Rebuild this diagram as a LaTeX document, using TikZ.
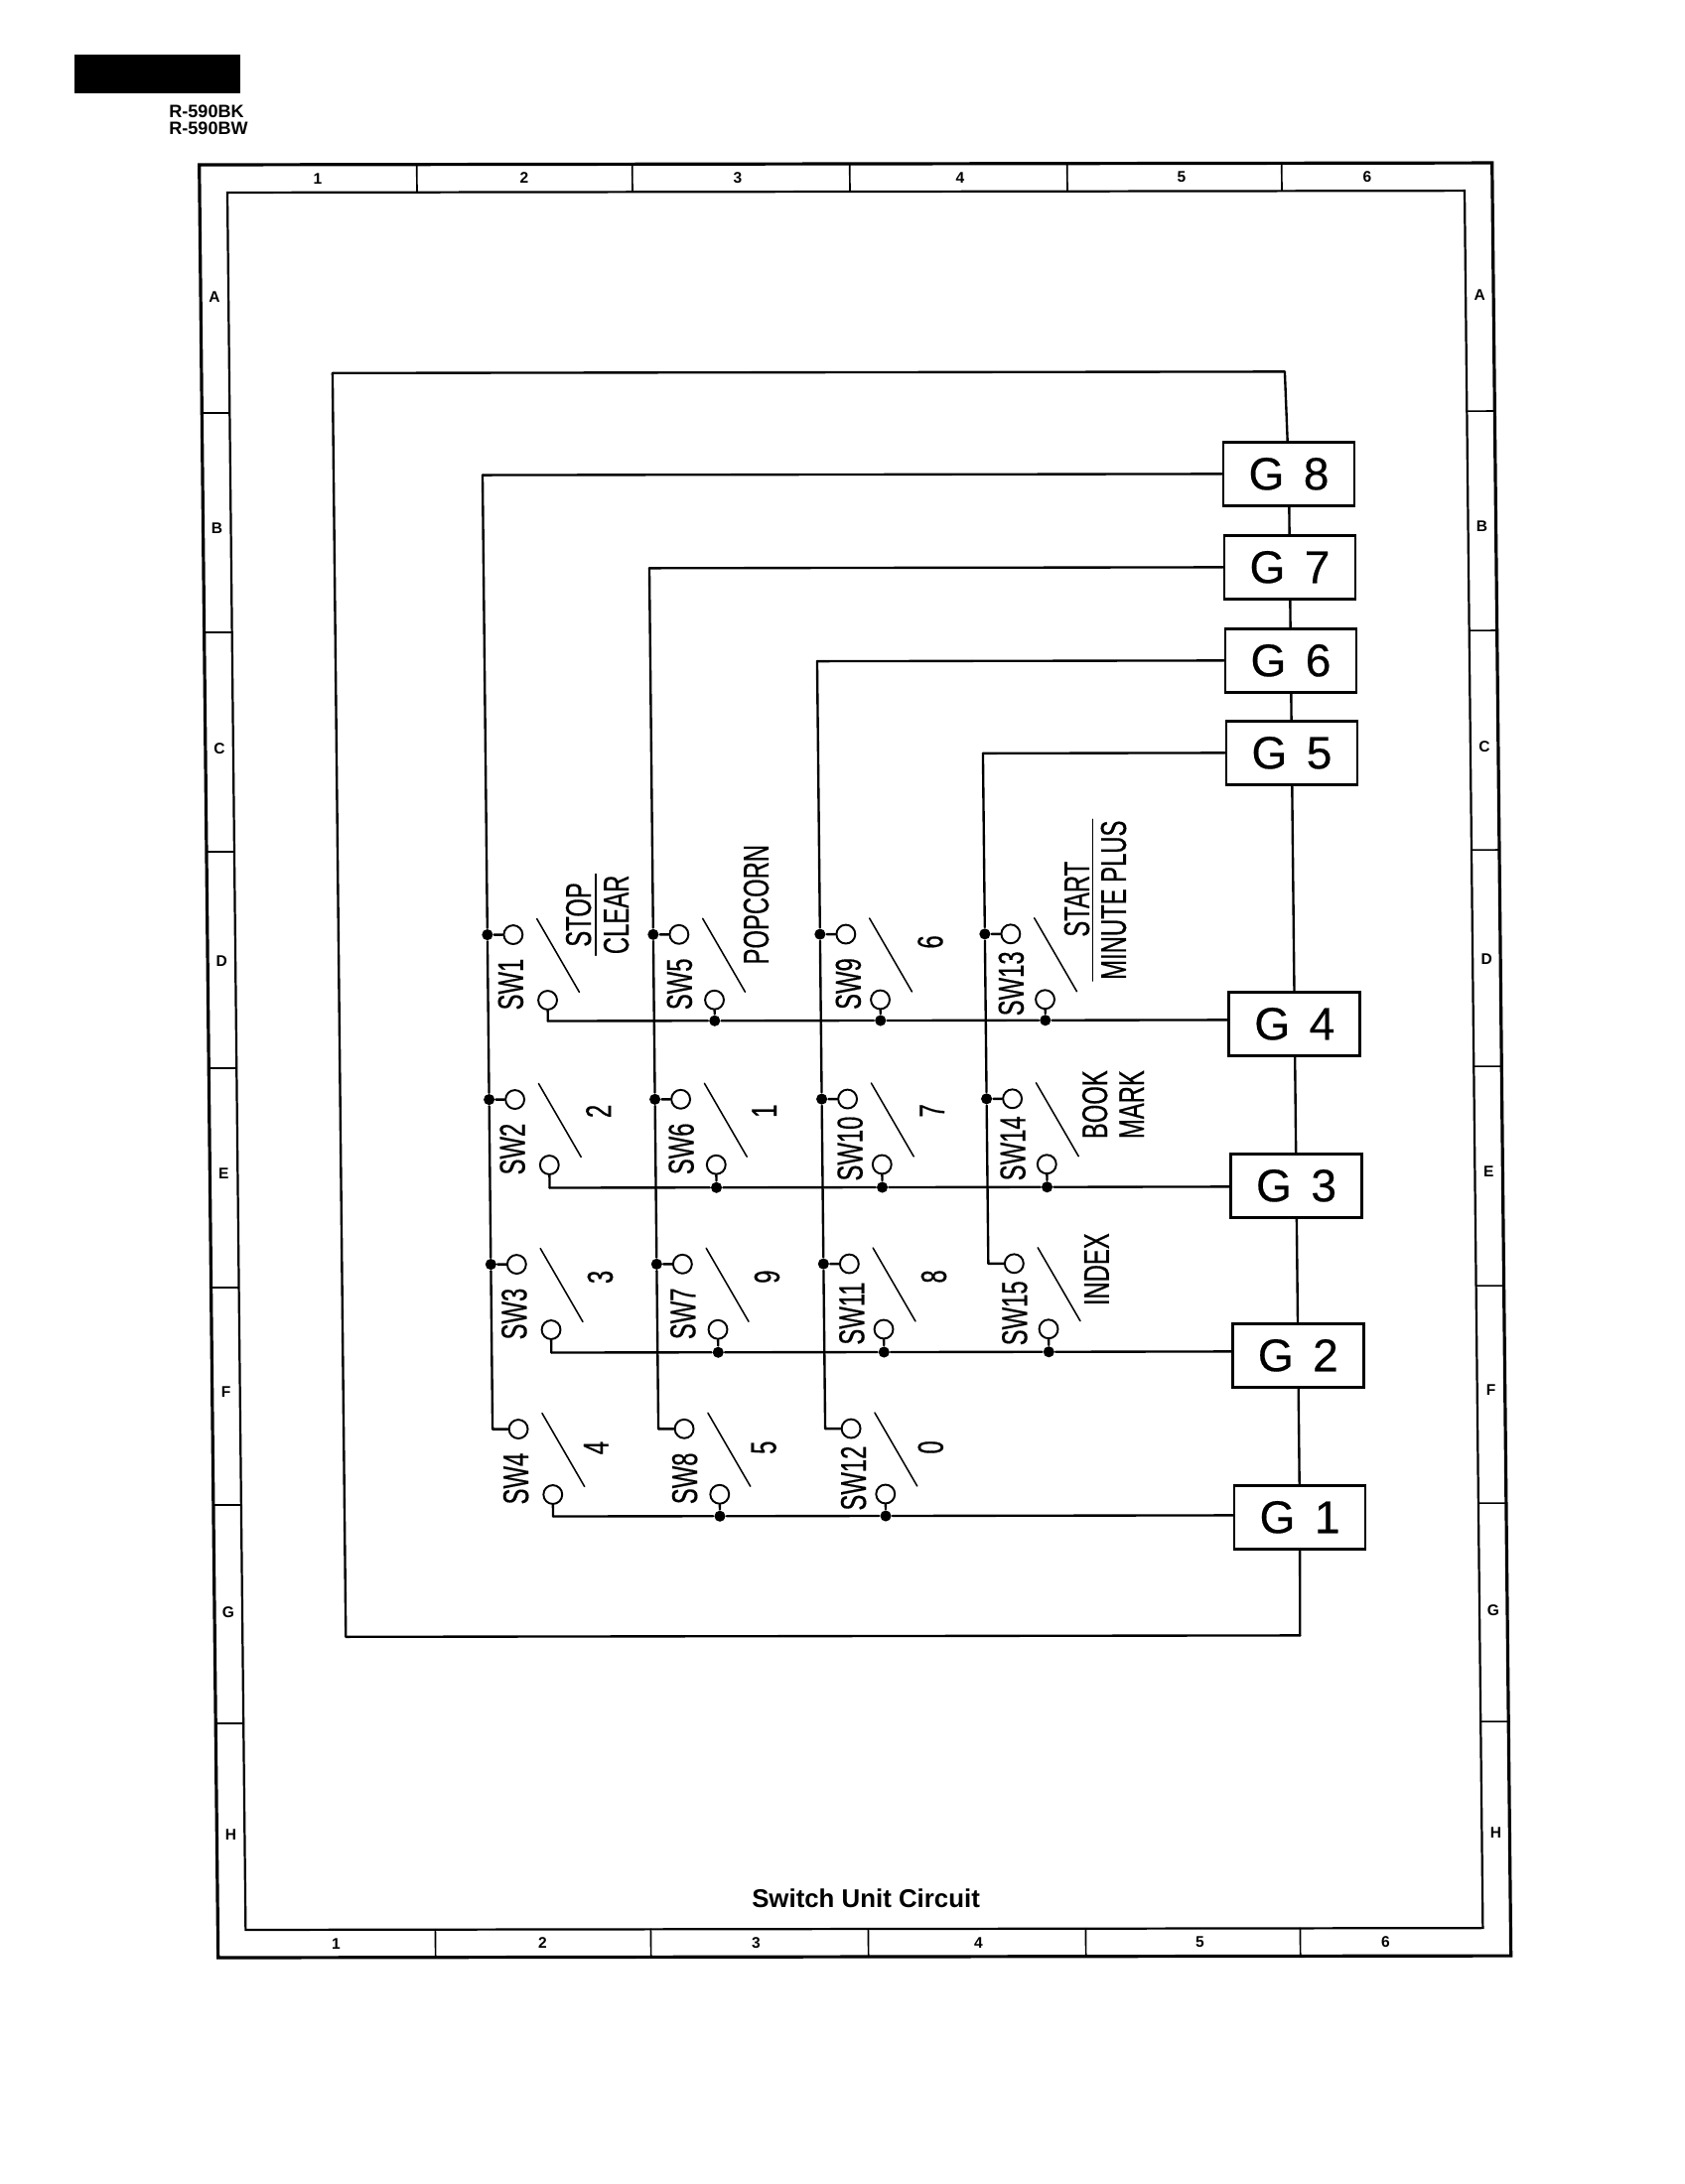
\documentclass[tikz,border=0pt]{standalone}
\usepackage{fontspec}
\setmainfont{Liberation Sans}
\newfontfamily\swfont[FakeStretch=0.66, FakeBold=0.4]{Liberation Sans}
\newfontfamily\blockfont[FakeBold=0.4]{Liberation Sans}
\usepackage{tikz}
\usetikzlibrary{positioning}

\begin{document}
\begin{tikzpicture}[x={(.36pt,.00054pt)}, y={(.00378pt,-.36pt)}, line width=.85pt, line cap=round,
    block/.style={shape=rectangle, draw=black, line width=1pt, inner sep=0pt, minimum width=47.5pt, minimum height=23pt, font=\blockfont\fontsize{16.6}{17}\selectfont},
    contact/.style={shape=circle, draw=black, line width=.7pt, inner sep=0pt, minimum size=6.8pt},
    junction/.style={shape=circle, fill=black, inner sep=0pt, minimum size=4pt},
    swtext/.style={rotate=90, inner xsep=0pt, inner ysep=2.5pt, font=\swfont\fontsize{13}{13}\selectfont},
    gridtext/.style={inner sep=0pt, font=\bfseries\fontsize{5.6}{6}\selectfont},
    arm/.style={line width=.55pt},
    frameouter/.style={line width=1.15pt},
    frameinner/.style={line width=.8pt},
    frametick/.style={line width=.6pt}]
    \useasboundingbox (-72.252pt,59.76pt) rectangle (538.308pt,-732.24pt);

    \node[shape=rectangle, fill=black, inner sep=0pt, minimum width=60pt, minimum height=14pt] (tag) at (-41,-92) {};
    \node[anchor=west, align=left, inner sep=0pt, font=\bfseries\fontsize{6.5}{6.1}\selectfont] (model) at (-31,-45) {R-590BK\\R-590BW};
    \node[font=\bfseries\fontsize{9.3}{10}\selectfont] (title) at (653,1747) {Switch Unit Circuit};

    \draw[frameouter] (0,0) -- (1302,0) -- (1302,1806) -- (0,1806) -- cycle;
    \draw[frameinner] (28,28) -- (1274,28) -- (1274,1778) -- (28,1778) -- cycle;
    \draw[frametick] (219,0) -- (219,28);
    \draw[frametick] (436,0) -- (436,28);
    \draw[frametick] (655,0) -- (655,28);
    \draw[frametick] (874,0) -- (874,28);
    \draw[frametick] (1090,0) -- (1090,28);
    \draw[frametick] (219,1778) -- (219,1806);
    \draw[frametick] (436,1778) -- (436,1806);
    \draw[frametick] (655,1778) -- (655,1806);
    \draw[frametick] (874,1778) -- (874,1806);
    \draw[frametick] (1090,1778) -- (1090,1806);
    \draw[frametick] (0,250) -- (28,250);
    \draw[frametick] (0,471) -- (28,471);
    \draw[frametick] (0,692) -- (28,692);
    \draw[frametick] (0,910) -- (28,910);
    \draw[frametick] (0,1131) -- (28,1131);
    \draw[frametick] (0,1350) -- (28,1350);
    \draw[frametick] (0,1570) -- (28,1570);
    \draw[frametick] (1274,250) -- (1302,250);
    \draw[frametick] (1274,471) -- (1302,471);
    \draw[frametick] (1274,692) -- (1302,692);
    \draw[frametick] (1274,910) -- (1302,910);
    \draw[frametick] (1274,1131) -- (1302,1131);
    \draw[frametick] (1274,1350) -- (1302,1350);
    \draw[frametick] (1274,1570) -- (1302,1570);

    \node[gridtext] (top1) at (119,14) {1};
    \node[gridtext] (top2) at (327,14) {2};
    \node[gridtext] (top3) at (542,14) {3};
    \node[gridtext] (top4) at (766,14) {4};
    \node[gridtext] (top5) at (989,14) {5};
    \node[gridtext] (top6) at (1176,14) {6};
    \node[gridtext] (bot1) at (119,1792) {1};
    \node[gridtext] (bot2) at (327,1792) {2};
    \node[gridtext] (bot3) at (542,1792) {3};
    \node[gridtext] (bot4) at (766,1792) {4};
    \node[gridtext] (bot5) at (989,1792) {5};
    \node[gridtext] (bot6) at (1176,1792) {6};
    \node[gridtext] (leftA) at (14,133) {A};
    \node[gridtext] (leftB) at (14,366) {B};
    \node[gridtext] (leftC) at (14,588) {C};
    \node[gridtext] (leftD) at (14,802) {D};
    \node[gridtext] (leftE) at (14,1016) {E};
    \node[gridtext] (leftF) at (14,1236) {F};
    \node[gridtext] (leftG) at (14,1458) {G};
    \node[gridtext] (leftH) at (14,1682) {H};
    \node[gridtext] (rightA) at (1288,133) {A};
    \node[gridtext] (rightB) at (1288,366) {B};
    \node[gridtext] (rightC) at (1288,588) {C};
    \node[gridtext] (rightD) at (1288,802) {D};
    \node[gridtext] (rightE) at (1288,1016) {E};
    \node[gridtext] (rightF) at (1288,1236) {F};
    \node[gridtext] (rightG) at (1288,1458) {G};
    \node[gridtext] (rightH) at (1288,1682) {H};

    \node[block] (G8) at (1094,313) {G\hspace{7pt}8};
    \node[block] (G7) at (1094,407) {G\hspace{7pt}7};
    \node[block] (G6) at (1094,501) {G\hspace{7pt}6};
    \node[block] (G5) at (1094,594) {G\hspace{7pt}5};
    \node[block] (G4) at (1094,867) {G\hspace{7pt}4};
    \node[block] (G3) at (1094,1030) {G\hspace{7pt}3};
    \node[block] (G2) at (1094,1201) {G\hspace{7pt}2};
    \node[block] (G1) at (1094,1364) {G\hspace{7pt}1};

    \node[contact] (T1) at (308,776) {};
    \node[contact] (T2) at (308,942) {};
    \node[contact] (T3) at (308,1108) {};
    \node[contact] (T4) at (308,1274) {};
    \node[contact] (T5) at (475,776) {};
    \node[contact] (T6) at (475,942) {};
    \node[contact] (T7) at (475,1108) {};
    \node[contact] (T8) at (475,1274) {};
    \node[contact] (T9) at (643,776) {};
    \node[contact] (T10) at (643,942) {};
    \node[contact] (T11) at (643,1108) {};
    \node[contact] (T12) at (643,1274) {};
    \node[contact] (T13) at (809,776) {};
    \node[contact] (T14) at (809,942) {};
    \node[contact] (T15) at (809,1108) {};

    \node[contact] (B1) at (342,842) {};
    \node[contact] (B2) at (342,1008) {};
    \node[contact] (B3) at (342,1174) {};
    \node[contact] (B4) at (342,1340) {};
    \node[contact] (B5) at (510,842) {};
    \node[contact] (B6) at (510,1008) {};
    \node[contact] (B7) at (510,1174) {};
    \node[contact] (B8) at (510,1340) {};
    \node[contact] (B9) at (677,842) {};
    \node[contact] (B10) at (677,1008) {};
    \node[contact] (B11) at (677,1174) {};
    \node[contact] (B12) at (677,1340) {};
    \node[contact] (B13) at (843,842) {};
    \node[contact] (B14) at (843,1008) {};
    \node[contact] (B15) at (843,1174) {};

    \node[junction] (P1) at (282,776) {};
    \node[junction] (P2) at (282,942) {};
    \node[junction] (P3) at (282,1108) {};
    \node[junction] (P5) at (449,776) {};
    \node[junction] (P6) at (449,942) {};
    \node[junction] (P7) at (449,1108) {};
    \node[junction] (P9) at (617,776) {};
    \node[junction] (P10) at (617,942) {};
    \node[junction] (P11) at (617,1108) {};
    \node[junction] (P13) at (783,776) {};
    \node[junction] (P14) at (783,942) {};

    \node[junction] (Q5) at (510,863) {};
    \node[junction] (Q9) at (677,863) {};
    \node[junction] (Q13) at (843,863) {};
    \node[junction] (Q6) at (510,1031) {};
    \node[junction] (Q10) at (677,1031) {};
    \node[junction] (Q14) at (843,1031) {};
    \node[junction] (Q7) at (510,1197) {};
    \node[junction] (Q11) at (677,1197) {};
    \node[junction] (Q15) at (843,1197) {};
    \node[junction] (Q8) at (510,1362) {};
    \node[junction] (Q12) at (677,1362) {};

    \coordinate (L9) at (132,210);
    \coordinate (L0) at (1091,210);
    \coordinate (R9) at (132,1483);
    \coordinate (R0) at (1093,1483);
    \coordinate (L8) at (282,313);
    \coordinate (L7) at (449,407);
    \coordinate (L6) at (617,501);
    \coordinate (L5) at (783,594);
    \coordinate (M4) at (282,1274);
    \coordinate (M8) at (449,1274);
    \coordinate (M12) at (617,1274);
    \coordinate (M15) at (783,1108);
    \coordinate (K1) at (342,863);
    \coordinate (K2) at (342,1031);
    \coordinate (K3) at (342,1197);
    \coordinate (K4) at (342,1362);

    \path (G8) edge (L0);
    \path (L0) edge (L9);
    \path (L9) edge (R9);
    \path (R9) edge (R0);
    \path (R0) edge (G1);
    \path (G8) edge (G7);
    \path (G7) edge (G6);
    \path (G6) edge (G5);
    \path (G5) edge (G4);
    \path (G4) edge (G3);
    \path (G3) edge (G2);
    \path (G2) edge (G1);

    \path (G8.west) edge (L8);
    \path (L8) edge (P1);
    \path (P1) edge (P2);
    \path (P2) edge (P3);
    \path (P3) edge (M4);
    \path (M4) edge (T4);
    \path (P1) edge (T1);
    \path (P2) edge (T2);
    \path (P3) edge (T3);

    \path (G7.west) edge (L7);
    \path (L7) edge (P5);
    \path (P5) edge (P6);
    \path (P6) edge (P7);
    \path (P7) edge (M8);
    \path (M8) edge (T8);
    \path (P5) edge (T5);
    \path (P6) edge (T6);
    \path (P7) edge (T7);

    \path (G6.west) edge (L6);
    \path (L6) edge (P9);
    \path (P9) edge (P10);
    \path (P10) edge (P11);
    \path (P11) edge (M12);
    \path (M12) edge (T12);
    \path (P9) edge (T9);
    \path (P10) edge (T10);
    \path (P11) edge (T11);

    \path (G5.west) edge (L5);
    \path (L5) edge (P13);
    \path (P13) edge (P14);
    \path (P14) edge (M15);
    \path (M15) edge (T15);
    \path (P13) edge (T13);
    \path (P14) edge (T14);

    \path (B1) edge (K1);
    \path (K1) edge (Q5);
    \path (Q5) edge (Q9);
    \path (Q9) edge (Q13);
    \path (Q13) edge ([yshift=1.44pt]G4.west);
    \path (B5) edge (Q5);
    \path (B9) edge (Q9);
    \path (B13) edge (Q13);

    \path (B2) edge (K2);
    \path (K2) edge (Q6);
    \path (Q6) edge (Q10);
    \path (Q10) edge (Q14);
    \path (Q14) edge ([yshift=-.36pt]G3.west);
    \path (B6) edge (Q6);
    \path (B10) edge (Q10);
    \path (B14) edge (Q14);

    \path (B3) edge (K3);
    \path (K3) edge (Q7);
    \path (Q7) edge (Q11);
    \path (Q11) edge (Q15);
    \path (Q15) edge ([yshift=1.44pt]G2.west);
    \path (B7) edge (Q7);
    \path (B11) edge (Q11);
    \path (B15) edge (Q15);

    \path (B4) edge (K4);
    \path (K4) edge (Q8);
    \path (Q8) edge (Q12);
    \path (Q12) edge ([yshift=.72pt]G1.west);
    \path (B8) edge (Q8);
    \path (B12) edge (Q12);

    \coordinate (U1) at (332,760);
    \coordinate (V1) at (374,834);
    \coordinate (U2) at (332,926);
    \coordinate (V2) at (374,1000);
    \coordinate (U3) at (332,1092);
    \coordinate (V3) at (374,1166);
    \coordinate (U4) at (332,1258);
    \coordinate (V4) at (374,1332);
    \coordinate (U5) at (499,760);
    \coordinate (V5) at (541,834);
    \coordinate (U6) at (499,926);
    \coordinate (V6) at (541,1000);
    \coordinate (U7) at (499,1092);
    \coordinate (V7) at (541,1166);
    \coordinate (U8) at (499,1258);
    \coordinate (V8) at (541,1332);
    \coordinate (U9) at (667,760);
    \coordinate (V9) at (709,834);
    \coordinate (U10) at (667,926);
    \coordinate (V10) at (709,1000);
    \coordinate (U11) at (667,1092);
    \coordinate (V11) at (709,1166);
    \coordinate (U12) at (667,1258);
    \coordinate (V12) at (709,1332);
    \coordinate (U13) at (833,760);
    \coordinate (V13) at (875,834);
    \coordinate (U14) at (833,926);
    \coordinate (V14) at (875,1000);
    \coordinate (U15) at (833,1092);
    \coordinate (V15) at (875,1166);

    \path[arm] (U1) edge (V1);
    \path[arm] (U2) edge (V2);
    \path[arm] (U3) edge (V3);
    \path[arm] (U4) edge (V4);
    \path[arm] (U5) edge (V5);
    \path[arm] (U6) edge (V6);
    \path[arm] (U7) edge (V7);
    \path[arm] (U8) edge (V8);
    \path[arm] (U9) edge (V9);
    \path[arm] (U10) edge (V10);
    \path[arm] (U11) edge (V11);
    \path[arm] (U12) edge (V12);
    \path[arm] (U13) edge (V13);
    \path[arm] (U14) edge (V14);
    \path[arm] (U15) edge (V15);

    \node[swtext] (SW1) at (305,826) {SW1};
    \node[swtext] (SW2) at (305,992) {SW2};
    \node[swtext] (SW3) at (305,1158) {SW3};
    \node[swtext] (SW4) at (305,1324) {SW4};
    \node[swtext] (SW5) at (475,826) {SW5};
    \node[swtext] (SW6) at (475,992) {SW6};
    \node[swtext] (SW7) at (475,1158) {SW7};
    \node[swtext] (SW8) at (475,1324) {SW8};
    \node[swtext] (SW9) at (645,826) {SW9};
    \node[swtext] (SW10) at (645,992) {SW10};
    \node[swtext] (SW11) at (645,1158) {SW11};
    \node[swtext] (SW12) at (645,1324) {SW12};
    \node[swtext] (SW13) at (809,826) {SW13};
    \node[swtext] (SW14) at (809,992) {SW14};
    \node[swtext] (SW15) at (809,1158) {SW15};

    \node[swtext] (stop) at (374,756) {STOP};
    \node[swtext] (clear) at (412,756) {CLEAR};
    \path[line width=.6pt] (clear.north west) edge (clear.north east);
    \node[swtext] (popcorn) at (553,746) {POPCORN};
    \node[swtext] (key6) at (728,784) {6};
    \node[swtext] (start) at (876,741) {START};
    \node[swtext] (minute) at (913,742) {MINUTE PLUS};
    \path[line width=.6pt] (minute.north west) edge (minute.north east);
    \node[swtext] (key2) at (392,954) {2};
    \node[swtext] (key1) at (559,954) {1};
    \node[swtext] (key7) at (728,954) {7};
    \node[swtext] (book) at (892,948) {BOOK};
    \node[swtext] (mark) at (929,948) {MARK};
    \node[swtext] (key3) at (392,1121) {3};
    \node[swtext] (key9) at (560,1121) {9};
    \node[swtext] (key8) at (728,1121) {8};
    \node[swtext] (index) at (892,1114) {INDEX};
    \node[swtext] (key4) at (386,1293) {4};
    \node[swtext] (key5) at (555,1293) {5};
    \node[swtext] (key0) at (723,1293) {0};
\end{tikzpicture}
\end{document}
